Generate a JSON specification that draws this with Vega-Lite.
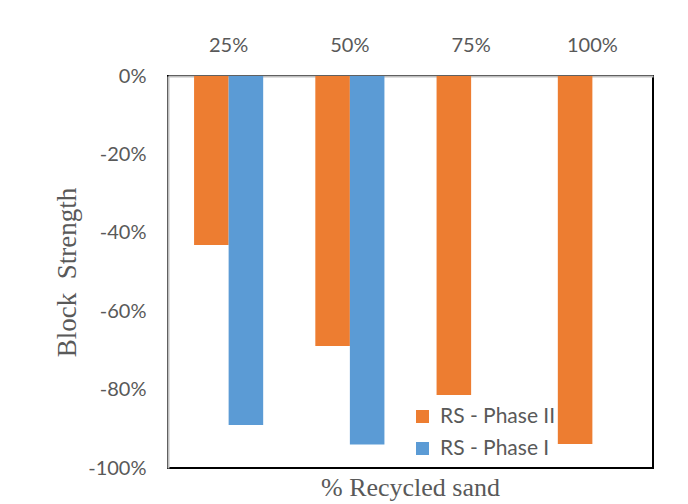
{
  "$schema": "https://vega.github.io/schema/vega-lite/v6.json",
  "autosize": {"type": "none"},
  "padding": {"left": 168, "top": 76, "right": 35, "bottom": 36},
  "width": 485,
  "height": 392,
  "background": "white",
  "title": {
    "text": "% Recycled sand",
    "orient": "bottom",
    "anchor": "middle",
    "font": "Liberation Serif",
    "fontSize": 26,
    "fontWeight": "normal",
    "color": "#595959",
    "offset": -3
  },
  "data": {
    "values": [
      {"Category": "25%", "Series": "RS - Phase II", "Value": -43.1},
      {"Category": "25%", "Series": "RS - Phase I", "Value": -89.0},
      {"Category": "50%", "Series": "RS - Phase II", "Value": -68.9},
      {"Category": "50%", "Series": "RS - Phase I", "Value": -94.0},
      {"Category": "75%", "Series": "RS - Phase II", "Value": -81.4},
      {"Category": "100%", "Series": "RS - Phase II", "Value": -93.9}
    ]
  },
  "mark": {"type": "bar"},
  "encoding": {
    "x": {
      "field": "Category",
      "type": "nominal",
      "sort": ["25%", "50%", "75%", "100%"],
      "scale": {"paddingInner": 0.43, "paddingOuter": 0.215},
      "axis": {
        "orient": "top",
        "title": null,
        "labelAngle": 0,
        "labelFont": "Lato",
        "labelFontSize": 20,
        "labelColor": "#595959",
        "labelPadding": 21,
        "ticks": false,
        "domainColor": "#BFBFBF",
        "domainWidth": 2
      }
    },
    "xOffset": {
      "field": "Series",
      "type": "nominal",
      "sort": ["RS - Phase II", "RS - Phase I"],
      "scale": {"paddingInner": 0, "paddingOuter": 0}
    },
    "y": {
      "field": "Value",
      "type": "quantitative",
      "scale": {"domain": [-100, 0], "nice": false},
      "axis": {
        "values": [-100, -80, -60, -40, -20, 0],
        "labelExpr": "datum.value + '%'",
        "labelFont": "Lato",
        "labelFontSize": 20,
        "labelColor": "#595959",
        "labelPadding": 22,
        "ticks": false,
        "grid": false,
        "domainColor": "#BFBFBF",
        "domainWidth": 2,
        "title": "Block\u00a0 Strength",
        "titleFont": "Liberation Serif",
        "titleFontSize": 27,
        "titleFontWeight": "normal",
        "titleColor": "#595959",
        "titlePadding": 6
      }
    },
    "color": {
      "field": "Series",
      "type": "nominal",
      "scale": {"domain": ["RS - Phase II", "RS - Phase I"], "range": ["#ED7D31", "#5B9BD5"]},
      "legend": {
        "title": null,
        "orient": "none",
        "legendX": 244,
        "legendY": 330,
        "symbolType": "square",
        "symbolSize": 169,
        "symbolStrokeWidth": 0,
        "labelFont": "Lato",
        "labelFontSize": 21,
        "labelColor": "#595959",
        "labelOffset": 7,
        "rowPadding": 10,
        "padding": 0
      }
    }
  },
  "config": {
    "view": {"stroke": "black", "strokeWidth": 2}
  }
}
